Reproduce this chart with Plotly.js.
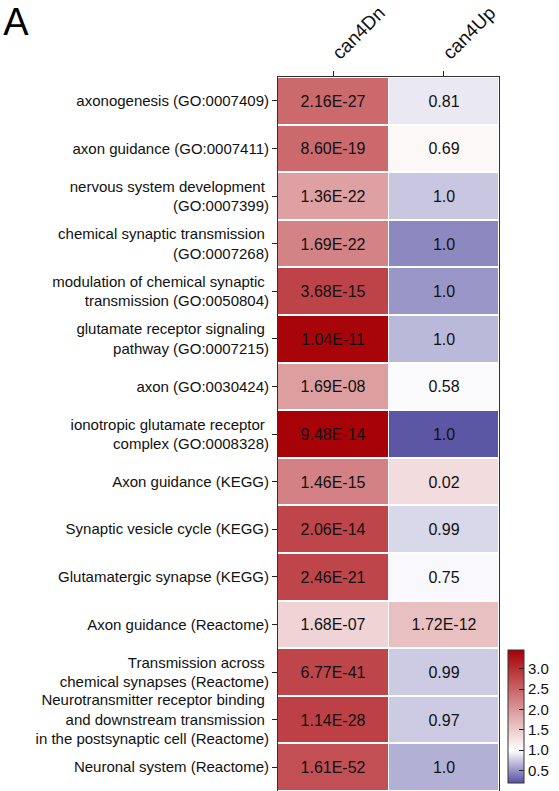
<!DOCTYPE html>
<html>
<head>
<meta charset="utf-8">
<script src="https://cdn.plot.ly/plotly-3.0.1.min.js"></script>
<style>
  html, body { margin: 0; padding: 0; background: #fff; }
  #chart { width: 559px; height: 791px; }
</style>
</head>
<body>
<div id="chart"></div>
<script>
// Enrichment terms, top to bottom
const terms = [
  'axonogenesis (GO:0007409)',
  'axon guidance (GO:0007411)',
  'nervous system development <br>(GO:0007399)',
  'chemical synaptic transmission <br>(GO:0007268)',
  'modulation of chemical synaptic <br>transmission (GO:0050804)',
  'glutamate receptor signaling <br>pathway (GO:0007215)',
  'axon (GO:0030424)',
  'ionotropic glutamate receptor <br>complex (GO:0008328)',
  'Axon guidance (KEGG)',
  'Synaptic vesicle cycle (KEGG)',
  'Glutamatergic synapse (KEGG)',
  'Axon guidance (Reactome)',
  'Transmission across <br>chemical synapses (Reactome)',
  'Neurotransmitter receptor binding <br>and downstream transmission <br>in the postsynaptic cell (Reactome)',
  'Neuronal system (Reactome)'
];

const groups = ['can4Dn', 'can4Up'];

// Colour values per term
const can4DnScore = [2.45, 2.45, 1.92, 2.21, 2.82, 3.42, 1.94, 3.45, 2.22, 2.80, 2.80, 1.42, 2.80, 2.85, 2.70];
const can4UpScore = [0.90, 1.07, 0.74, 0.46, 0.52, 0.68, 0.98, 0.23, 1.34, 0.82, 0.97, 1.61, 0.76, 0.76, 0.64];

// Values written in each cell
const can4DnLabel = ['2.16E-27', '8.60E-19', '1.36E-22', '1.69E-22', '3.68E-15', '1.04E-11', '1.69E-08',
                     '9.48E-14', '1.46E-15', '2.06E-14', '2.46E-21', '1.68E-07', '6.77E-41', '1.14E-28', '1.61E-52'];
const can4UpLabel = ['0.81', '0.69', '1.0', '1.0', '1.0', '1.0', '0.58',
                     '1.0', '0.02', '0.99', '0.75', '1.72E-12', '0.99', '0.97', '1.0'];

const colorMin = 0.2;
const colorMax = 3.47;
const colorMid = 1.0;
const midPos = (colorMid - colorMin) / (colorMax - colorMin);

const rowIdx = terms.map((_, i) => i);
const z = rowIdx.map(i => [can4DnScore[i], can4UpScore[i]]);
const cellText = rowIdx.map(i => [can4DnLabel[i], can4UpLabel[i]]);

const font = '"Liberation Sans", Arial, sans-serif';

const trace = {
  type: 'heatmap',
  x: groups,
  y: rowIdx,
  z: z,
  text: cellText,
  texttemplate: '%{text}',
  textfont: { family: font, size: 16, color: '#111' },
  hoverinfo: 'skip',
  zmin: colorMin,
  zmax: colorMax,
  xgap: 1,
  ygap: 2,
  colorscale: [
    [0, 'rgb(86,80,162)'],
    [midPos, 'rgb(255,255,255)'],
    [1, 'rgb(166,0,6)']
  ],
  colorbar: {
    x: 1.041, xanchor: 'left', xpad: 0,
    y: 0.0116, yanchor: 'bottom', ypad: 0,
    thickness: 16,
    len: 133, lenmode: 'pixels',
    outlinewidth: 1, outlinecolor: '#333',
    tick0: 0.5, dtick: 0.5, tickformat: '.1f',
    ticks: 'inside', ticklen: 5, tickcolor: '#222',
    tickfont: { family: font, size: 15, color: '#111' }
  }
};

const layout = {
  width: 559,
  height: 791,
  margin: { l: 278, r: 60, t: 77, b: 0 },
  paper_bgcolor: '#fff',
  plot_bgcolor: '#fff',
  font: { family: font, color: '#111' },
  title: {
    text: 'A',
    xref: 'container', x: 0.006, xanchor: 'left',
    yref: 'container', y: 0.99, yanchor: 'top',
    font: { family: font, size: 38, color: '#000' }
  },
  xaxis: {
    side: 'top',
    type: 'category',
    tickangle: -45,
    ticks: 'outside', ticklen: 5, tickcolor: '#222',
    tickfont: { family: font, size: 19, color: '#111' },
    showline: true, linecolor: '#333', linewidth: 1, mirror: true,
    showgrid: false, zeroline: false, fixedrange: true
  },
  yaxis: {
    autorange: 'reversed',
    tickmode: 'array',
    tickvals: rowIdx,
    ticktext: terms,
    ticks: 'outside', ticklen: 5, tickcolor: '#222',
    tickfont: { family: font, size: 15, color: '#111' },
    showline: true, linecolor: '#333', linewidth: 1, mirror: true,
    showgrid: false, zeroline: false, fixedrange: true
  }
};

Plotly.newPlot('chart', [trace], layout, { displayModeBar: false, staticPlot: true });
</script>
</body>
</html>
